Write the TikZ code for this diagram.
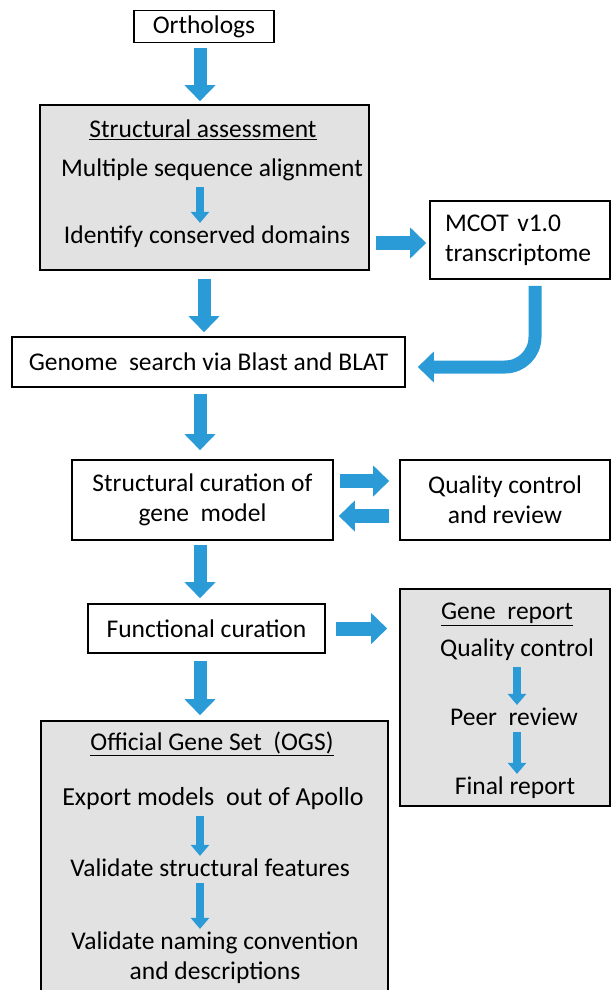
\documentclass[tikz,border=0pt]{standalone}
\usepackage{fontspec}
\setmainfont{Carlito}
\usetikzlibrary{arrows.meta,positioning}
\definecolor{flow}{HTML}{2B9BD8}
\definecolor{panel}{HTML}{E2E2E2}
\newcommand\flowfont{\fontsize{25.5}{30}\selectfont}
\newcommand\bigfont{\fontsize{26}{30}\selectfont}
\tikzset{
  box/.style={draw=black, line width=1.6pt, fill=white, inner sep=0pt, align=center, font=\flowfont},
  grp/.style={box, fill=panel},
  txt/.style={inner sep=0pt, align=center, font=\flowfont},
  big/.style={draw=flow, line width=13pt, -{Triangle[length=16pt,width=30pt]}},
  wide/.style={draw=flow, line width=14pt, -{Triangle[length=16pt,width=30pt]}},
  small/.style={draw=flow, line width=8pt, -{Triangle[length=11pt,width=18pt]}},
}
\begin{document}
\begin{tikzpicture}[x=1pt,y=-1pt]
  \useasboundingbox (0,0) rectangle (611,990);
  \clip (0,0) rectangle (611,990);
  \coordinate (spine) at (200,0);
  % main column
  \node[box, minimum width=140, minimum height=32] (orth) at (204,26.5) {Orthologs};
  \node[grp, minimum width=329, minimum height=165] (sa) at (204.5,187.5) {};
  \node[txt] (sat) at (203,130) {\underline{Structural assessment}};
  \node[txt] (msa) at (212,170) {Multiple sequence alignment};
  \node[txt] (icd) at (207,237) {Identify conserved domains};
  \node[box, minimum width=180, minimum height=78, text width=150, align=left, inner xsep=15] (mcot) at (520,240) {MCOT v1.0\\transcriptome};
  \node[box, minimum width=393, minimum height=50] (genome) at (208.5,362) {Genome\ \ search via Blast and BLAT};
  \node[box, minimum width=261, minimum height=80] (scg) at (202.5,500) {Structural curation of\\gene\ \ model};
  \node[box, minimum width=210, minimum height=80] (qcr) at (505,500) {Quality control\\and review};
  \node[box, minimum width=237, minimum height=49] (func) at (206.5,628.5) {Functional curation};
  % gene report
  \node[grp, minimum width=210, minimum height=217] (gr) at (505,697.5) {};
  \node[txt] (grt) at (507,614) {\underline{Gene\ \ report}};
  \node[txt] (grq) at (517,650) {Quality control};
  \node[txt] (grp) at (514,717) {Peer\ \ review};
  \node[txt] (grf) at (515,788) {Final report};
  % official gene set
  \node[grp, minimum width=347, minimum height=278] (ogs) at (214.5,860) {};
  \node[txt] (ogst) at (212,744) {\underline{Official Gene Set\ \ (OGS)}};
  \node[txt, font=\bigfont] (ogse) at (213,799) {Export models\ \ out of Apollo};
  \node[txt] (ogsv) at (210,868) {Validate structural features};
  \node[txt] (ogsn) at (215,958) {Validate naming convention\\and descriptions};
  % connectors
  \draw[big, shorten <=5pt, shorten >=3pt] (spine |- orth.south) -- (spine |- sa.north);
  \draw[small, shorten <=6pt, shorten >=3pt] (spine |- msa.south) -- (spine |- icd.north);
  \draw[wide, shorten <=6pt, shorten >=3pt] ([yshift=-6pt]icd.east -| sa.east) -- ([yshift=-6pt]icd.east -| mcot.west);
  \draw[big, rounded corners=30pt, shorten <=6pt, shorten >=12pt] ([xshift=15pt]mcot.south) |- ([yshift=-5pt]genome.east);
  \draw[big, shorten <=8pt, shorten >=4pt] ([xshift=4pt]spine |- sa.south) -- ([xshift=4pt]spine |- genome.north);
  \draw[big, shorten <=6pt, shorten >=9pt] (spine |- genome.south) -- (spine |- scg.north);
  \draw[wide, shorten <=6pt, shorten >=10pt] ([yshift=19pt]scg.east) -- ([yshift=19pt]qcr.west);
  \draw[wide, shorten <=10pt, shorten >=5pt] ([yshift=-16pt]qcr.west) -- ([yshift=-16pt]scg.east);
  \draw[big, shorten <=4pt, shorten >=5pt] (spine |- scg.south) -- (spine |- func.north);
  \draw[wide, shorten <=10pt, shorten >=12pt] (func.east) -- (func.east -| gr.west);
  \draw[small, shorten <=6pt, shorten >=3pt] (grq.south) -- (grq.south |- grp.north);
  \draw[small, shorten <=6pt, shorten >=3pt] (grq.south |- grp.south) -- (grq.south |- grf.north);
  \draw[big, shorten <=7pt, shorten >=5pt] (spine |- func.south) -- (spine |- ogs.north);
  \draw[small, shorten <=6pt, shorten >=3pt] (spine |- ogse.south) -- (spine |- ogsv.north);
  \draw[small, shorten <=6pt, shorten >=3pt] (spine |- ogsv.south) -- (spine |- ogsn.north);
\end{tikzpicture}
\end{document}
